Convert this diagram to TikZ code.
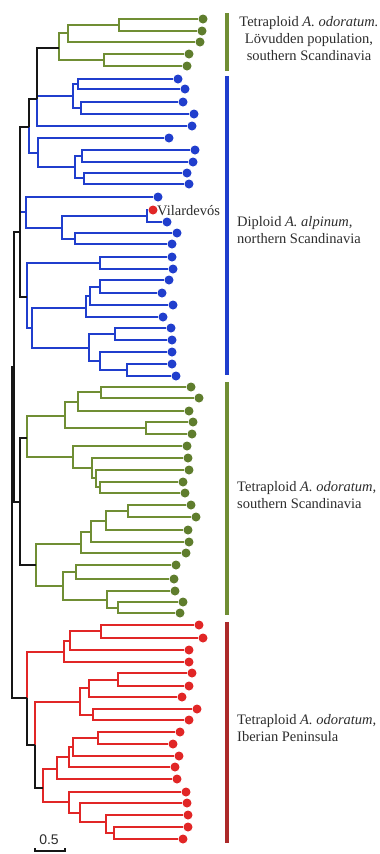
\documentclass[tikz,border=0pt]{standalone}
\usepackage{fontspec}
\setmainfont{Liberation Serif}
\newfontfamily\sansf{Liberation Sans}
\definecolor{gcol}{RGB}{112,142,52}
\definecolor{gdotc}{RGB}{95,125,45}
\definecolor{bcol}{RGB}{32,62,205}
\definecolor{rcol}{RGB}{225,38,38}
\definecolor{rbar}{RGB}{172,42,42}
\definecolor{kcol}{RGB}{22,22,22}
\definecolor{tcol}{RGB}{45,45,45}
\begin{document}
\begin{tikzpicture}[x=1pt,y=-1pt,
  gl/.style={draw=gcol,line width=2pt},
  bl/.style={draw=bcol,line width=2pt},
  rl/.style={draw=rcol,line width=2pt},
  kl/.style={draw=kcol,line width=2.2pt},
  leafdot/.style={circle,inner sep=0pt,minimum size=9pt,draw=none},
  gdot/.style={leafdot,fill=gdotc},
  bdot/.style={leafdot,fill=bcol},
  rdot/.style={leafdot,fill=rcol},
  barline/.style={line width=3.6pt},
  lab/.style={text=tcol,font=\fontsize{14.5}{17}\selectfont,inner sep=0pt}]
\useasboundingbox[fill=white] (0,0) rectangle (380,854);
% ---------- leaves ----------
\foreach \n/\x/\y in {g1/203/19,g2/202/31,g3/200/42,g4/189/54,g5/187/66,
  h1/191/387,h2/199/398,h3/189/411,h4/193/422,h5/192/434,h6/187/446,h7/188/458,
  h8/189/470,h9/183/482,h10/185/493,h11/191/505,h12/196/517,h13/188/530,h14/189/542,
  h15/186/553,h16/176/565,h17/174/579,h18/175/591,h19/183/602,h20/180/613}
  \node[gdot] (\n) at (\x,\y) {};
\foreach \n/\x/\y in {b1/178/79,b2/185/89,b3/183/102,b4/194/114,b5/192/126,b6/169/138,
  b7/195/150,b8/193/162,b9/187/173,b10/189/184,b11/158/197,b12/167/222,b13/177/233,
  b14/172/244,b15/172/257,b16/173/269,b17/169/280,b18/162/293,b19/173/305,b20/163/317,
  b21/171/328,b22/172/340,b23/172/352,b24/172/364,b25/176/376}
  \node[bdot] (\n) at (\x,\y) {};
\foreach \n/\x/\y in {vil/153/210,r1/199/625,r2/203/638,r3/189/650,r4/189/662,r5/192/673,
  r6/189/686,r7/182/697,r8/197/709,r9/189/720,r10/180/732,r11/173/744,r12/179/756,
  r13/175/767,r14/177/779,r15/186/792,r16/187/803,r17/188/815,r18/188/827,r19/183/839}
  \node[rdot] (\n) at (\x,\y) {};
% ---------- internal nodes ----------
\foreach \n/\x/\y in {g12/119/25,g123/68/33,g45/104/60,groot/59/48,
  bp12/78/84,bp34/81/108,bA/73/96,ngb/37/99,bp78/82/156,bp910/84/178,bB2/75/167,
  bB/38/153,n29/29/127,vn/147/216,bp1314/75/239,bV/62/228,bC11/26/212,
  bp1516/100/263,bp1718/100/287,bp1719/90/296,bE/86/308,bp2122/115/334,
  bp2425/127/370,bp2325/100/361,bF/89/348,bD/32/328,bCc/27/297,n20/20/232,
  hp12/101/392,hp13/78/402,hp45/146/428,hA1/65/416,hp910/100/487,hp810/96/478,
  hp710/92/468,hA2/73/457,hA/27/438,hp1112/128/511,hp1113/106/521,hp1114/91/532,
  hB1/81/544,hp1617/76/572,hp1920/118/608,hp1820/107/600,hB2/63/586,hB/36/565,
  nG2/20/502,rp12/101/631,rp13/70/641,rA/64/652,rp56/118/680,rp57/89/688,
  rp89/93/715,rB/80/702,rp1011/98/738,rp1012/73/747,rp1013/69/757,rC/57/769,
  rp1819/114/833,rp1719/106/822,rp1619/80/813,rD/69/802,nR3/43/788,nR2/35/745,
  nR1/27/698,n14/14/367,root/12/530}
  \coordinate (\n) at (\x,\y);
% ---------- coloured branches ----------
\foreach \p/\c in {g12/g1,g12/g2,g123/g12,g123/g3,g45/g4,g45/g5,groot/g123,groot/g45,
  hp12/h1,hp12/h2,hp13/hp12,hp13/h3,hp45/h4,hp45/h5,hA1/hp13,hA1/hp45,
  hp910/h9,hp910/h10,hp810/h8,hp810/hp910,hp710/h7,hp710/hp810,hA2/h6,hA2/hp710,
  hA/hA1,hA/hA2,hp1112/h11,hp1112/h12,hp1113/hp1112,hp1113/h13,hp1114/hp1113,
  hp1114/h14,hB1/hp1114,hB1/h15,hp1617/h16,hp1617/h17,hp1920/h19,hp1920/h20,
  hp1820/h18,hp1820/hp1920,hB2/hp1617,hB2/hp1820,hB/hB1,hB/hB2}
  \draw[gl] (\p) |- (\c);
\foreach \p/\c in {bp12/b1,bp12/b2,bp34/b3,bp34/b4,bA/bp12,bA/bp34,ngb/bA,ngb/b5,
  bp78/b7,bp78/b8,bp910/b9,bp910/b10,bB2/bp78,bB2/bp910,bB/b6,bB/bB2,n29/bB,
  vn/vil,vn/b12,bp1314/b13,bp1314/b14,bV/vn,bV/bp1314,bC11/b11,bC11/bV,n20/bC11,
  bp1516/b15,bp1516/b16,bp1718/b17,bp1718/b18,bp1719/bp1718,bp1719/b19,bE/bp1719,
  bE/b20,bp2122/b21,bp2122/b22,bp2425/b24,bp2425/b25,bp2325/b23,bp2325/bp2425,
  bF/bp2122,bF/bp2325,bD/bE,bD/bF,bCc/bp1516,bCc/bD}
  \draw[bl] (\p) |- (\c);
\foreach \p/\c in {rp12/r1,rp12/r2,rp13/rp12,rp13/r3,rA/rp13,rA/r4,rp56/r5,rp56/r6,
  rp57/rp56,rp57/r7,rp89/r8,rp89/r9,rB/rp57,rB/rp89,rp1011/r10,rp1011/r11,
  rp1012/rp1011,rp1012/r12,rp1013/rp1012,rp1013/r13,rC/rp1013,rC/r14,
  rp1819/r18,rp1819/r19,rp1719/r17,rp1719/rp1819,rp1619/r16,rp1619/rp1719,
  rD/r15,rD/rp1619,nR3/rC,nR3/rD,nR2/rB,nR1/rA}
  \draw[rl] (\p) |- (\c);
% ---------- backbone ----------
\foreach \p/\c in {ngb/groot,n29/ngb,n20/n29,n20/bCc,n14/n20,n14/nG2,nG2/hA,nG2/hB,
  nR2/nR3,nR1/nR2,root/n14,root/nR1}
  \draw[kl] (\p) |- (\c);
% ---------- group bars ----------
\draw[barline,gcol] (227,13) -- (227,71);
\draw[barline,bcol] (227,76) -- (227,375);
\draw[barline,gcol] (227,382) -- (227,615);
\draw[barline,rbar] (227,622) -- (227,843);
% ---------- labels ----------
\node[lab,anchor=west] (vlab) at (157,211) {Vilardevós};
\node[lab,align=center,anchor=north] (lab1) at (309,16)
  {Tetraploid \textit{A.\ odoratum.}\\Lövudden population,\\southern Scandinavia};
\node[lab,align=left,anchor=north west] (lab2) at (237,216)
  {Diploid \textit{A.\ alpinum,}\\northern Scandinavia};
\node[lab,align=left,anchor=north west] (lab3) at (237,481)
  {Tetraploid \textit{A.\ odoratum,}\\southern Scandinavia};
\node[lab,align=left,anchor=north west] (lab4) at (237,714)
  {Tetraploid \textit{A.\ odoratum,}\\Iberian Peninsula};
% ---------- scale bar ----------
\coordinate (sb1) at (35,851);
\coordinate (sb2) at (65,851);
\draw[kl,line width=2pt] ([yshift=3pt]sb1) |- (sb2) -- ([yshift=3pt]sb2);
\node[text=tcol,font=\sansf\fontsize{14}{16}\selectfont,inner sep=0pt] (sblab) at (49,840) {0.5};
\end{tikzpicture}
\end{document}
